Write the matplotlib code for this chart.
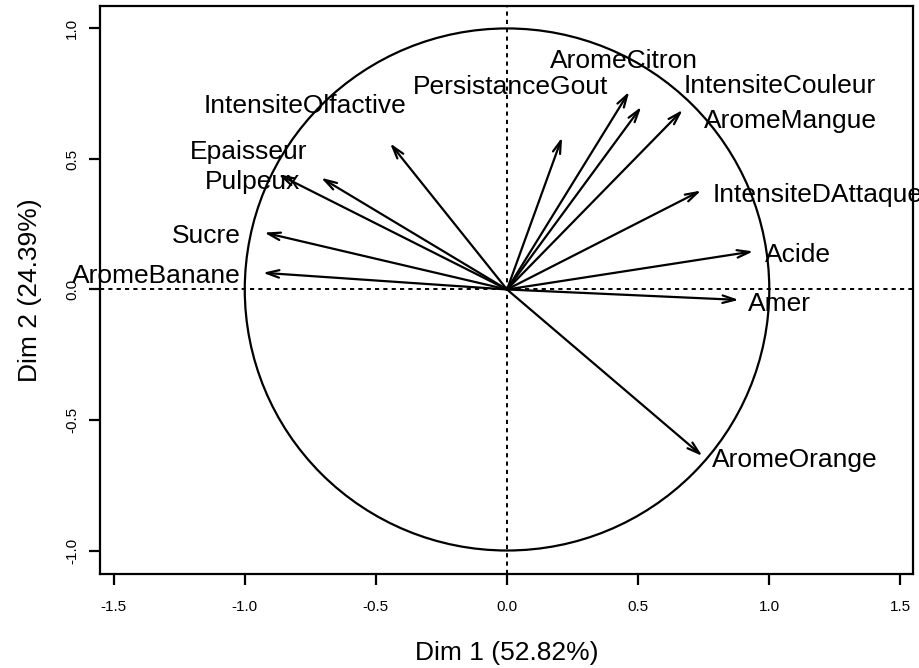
import numpy as np
import matplotlib
matplotlib.use("Agg")
import matplotlib.pyplot as plt
from matplotlib.patches import Circle

plt.rcParams["font.family"] = ["Liberation Sans", "DejaVu Sans"]
plt.rcParams["axes.unicode_minus"] = False
plt.rcParams["lines.scale_dashes"] = False

# Variable coordinates on the first two PCA dimensions
variables = ["IntensiteOlfactive", "Epaisseur", "Pulpeux", "Sucre", "AromeBanane",
             "PersistanceGout", "AromeCitron", "IntensiteCouleur", "AromeMangue",
             "IntensiteDAttaque", "Acide", "Amer", "AromeOrange"]
dim1 = [-0.446, -0.709, -0.872, -0.926, -0.931,
        0.210, 0.466, 0.512, 0.670,
        0.740, 0.939, 0.884, 0.745]
dim2 = [0.560, 0.428, 0.441, 0.218, 0.064,
        0.583, 0.758, 0.700, 0.688,
        0.379, 0.146, -0.040, -0.638]

x_ticks = [-1.5, -1.0, -0.5, 0.0, 0.5, 1.0, 1.5]
y_ticks = [-1.0, -0.5, 0.0, 0.5, 1.0]
x_title = "Dim 1 (52.82%)"
y_title = "Dim 2 (24.39%)"

# Where each variable name is written (left edge, baseline)
label_pos = {
    "IntensiteOlfactive": (-1.158, 0.676),
    "Epaisseur": (-1.209, 0.500),
    "Pulpeux": (-1.151, 0.385),
    "Sucre": (-1.277, 0.177),
    "AromeBanane": (-1.660, 0.024),
    "PersistanceGout": (-0.358, 0.748),
    "AromeCitron": (0.164, 0.849),
    "IntensiteCouleur": (0.672, 0.752),
    "AromeMangue": (0.751, 0.618),
    "IntensiteDAttaque": (0.783, 0.336),
    "Acide": (0.984, 0.104),
    "Amer": (0.920, -0.081),
    "AromeOrange": (0.780, -0.679),
}

W, H = 920, 668
fig = plt.figure(figsize=(W / 100, H / 100), dpi=100)
ax = fig.add_axes([100 / W, (H - 574) / H, 813 / W, 568 / H])
ax.set_xlim(-1.552, 1.548)
ax.set_ylim(-1.09, 1.086)

lw = 1.6
# unit circle of correlations
ax.add_patch(Circle((0, 0), 1.0, fill=False, lw=lw, ec="black"))
ax.axhline(0, color="black", lw=1.4, ls=(0, (3, 3)))
ax.axvline(0, color="black", lw=1.4, ls=(0, (3, 3)))

for name, x, y in zip(variables, dim1, dim2):
    ax.annotate("", xy=(x, y), xytext=(0, 0),
                arrowprops=dict(arrowstyle="->,head_length=0.9,head_width=0.27",
                                lw=lw, color="black", shrinkA=0, shrinkB=0,
                                mutation_scale=10))
    lx, ly = label_pos[name]
    ax.text(lx, ly, name, fontsize=19, ha="left", va="baseline", color="black",
            clip_on=False)

ax.set_xticks(x_ticks)
ax.set_xticklabels([f"{t:.1f}" for t in x_ticks])
ax.set_yticks(y_ticks)
ax.set_yticklabels([f"{t:.1f}" for t in y_ticks], rotation=90, va="center")
ax.tick_params(axis="both", length=8, width=lw, labelsize=11, direction="out")
ax.tick_params(axis="x", pad=11)
ax.tick_params(axis="y", pad=7)
for s in ax.spines.values():
    s.set_linewidth(lw)

fig.text(507 / W, 1 - 653 / H, x_title, fontsize=19, ha="center", va="center")
fig.text(30 / W, 1 - 290 / H, y_title, fontsize=19, ha="center", va="center",
         rotation=90)

fig.savefig("out.png", dpi=100)
